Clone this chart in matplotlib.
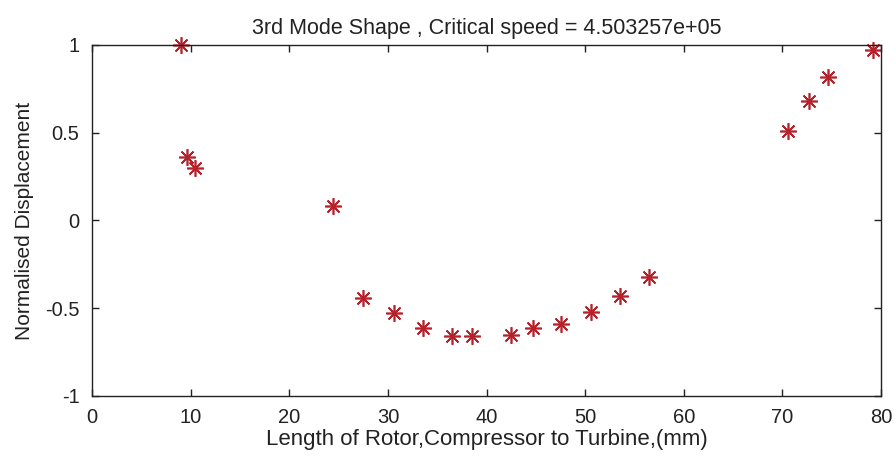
import matplotlib.pyplot as plt

x_pos = [9.0, 9.6, 10.4, 24.4, 27.5, 30.6, 33.6, 36.5, 38.5, 42.5,
         44.7, 47.6, 50.6, 53.5, 56.5, 70.6, 72.7, 74.6, 79.2]
disp = [1.0, 0.36, 0.30, 0.085, -0.44, -0.53, -0.61, -0.66, -0.66, -0.65,
        -0.61, -0.59, -0.52, -0.43, -0.32, 0.51, 0.68, 0.82, 0.97]

x_ticks = [0, 10, 20, 30, 40, 50, 60, 70, 80]
y_ticks = [-1, -0.5, 0, 0.5, 1]
y_labels = ['-1', '-0.5', '0', '0.5', '1']

title = '3rd Mode Shape , Critical speed = 4.503257e+05'
xlab = 'Length of Rotor,Compressor to Turbine,(mm)'

plt.rcParams['font.family'] = ['Liberation Sans', 'DejaVu Sans']

fig = plt.figure(figsize=(8.96, 4.59), dpi=100)
ax = fig.add_axes([0.1027, 0.1373, 0.8806, 0.7647])

ax.plot(x_pos, disp, linestyle='none', marker=(8, 2, 0), markersize=12,
        markeredgewidth=1.2, color='#b5222c', clip_on=False)

ax.set_xlim(0, 80)
ax.set_ylim(-1, 1)
ax.set_xticks(x_ticks)
ax.set_yticks(y_ticks)
ax.set_yticklabels(y_labels)
ax.tick_params(direction='in', length=5, width=1, top=True, right=True,
               labelsize=14.5, color='#222222', labelcolor='#222222')
ax.tick_params(axis='x', pad=9)
ax.tick_params(axis='y', pad=9)
for s in ax.spines.values():
    s.set_linewidth(1)
    s.set_color('#222222')

ax.set_title(title, fontsize=15.5, pad=8, color='#222222')
ax.set_xlabel(xlab, fontsize=16, labelpad=1, color='#222222')
ax.set_ylabel('Normalised Displacement', fontsize=15, labelpad=8, color='#222222')

plt.savefig('out.png', dpi=100)
